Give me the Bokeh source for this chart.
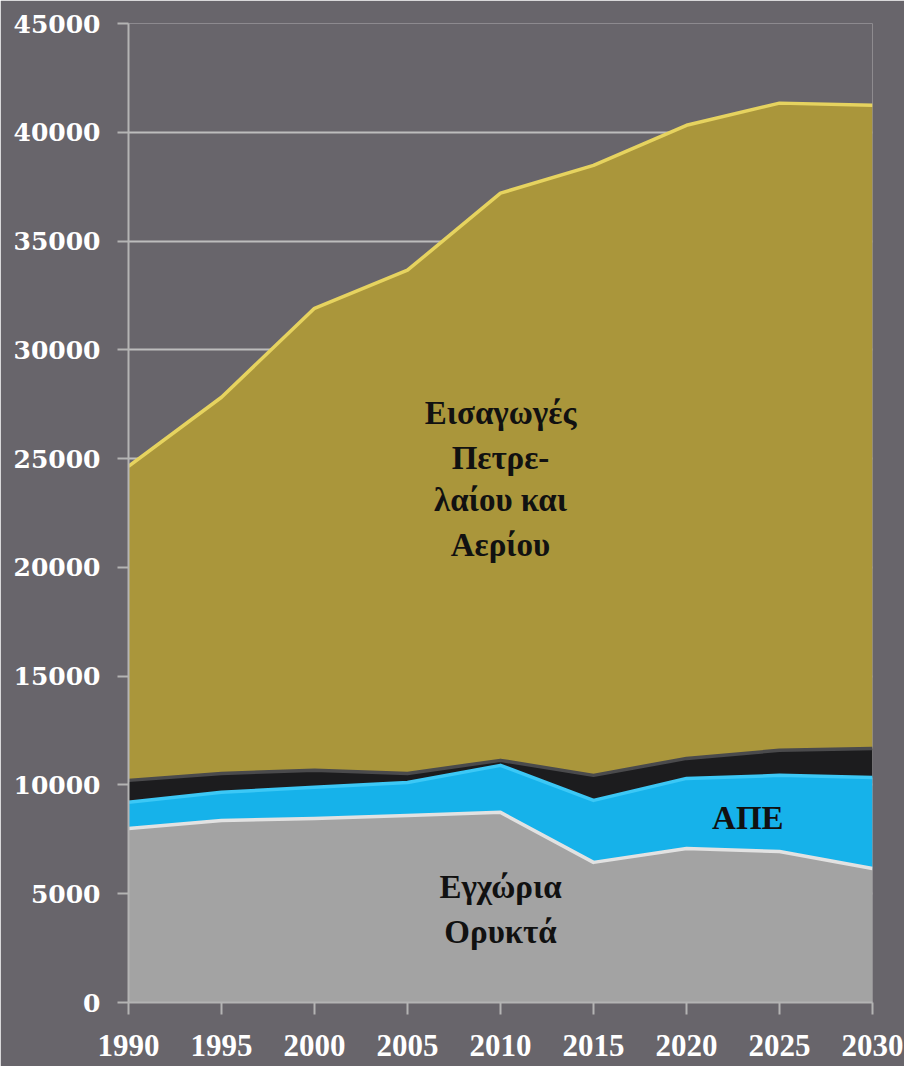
import numpy as np
from bokeh.plotting import figure
from bokeh.models import ColumnDataSource, FixedTicker
from bokeh.core.properties import value
from bokeh.embed import file_html
from bokeh.resources import INLINE

# ---- data ----
years = [1990, 1995, 2000, 2005, 2010, 2015, 2020, 2025, 2030]
domestic_fossil = [8000, 8370, 8460, 8600, 8740, 6440, 7080, 6940, 6160]      # Εγχώρια Ορυκτά
renewables = [1200, 1290, 1430, 1510, 2160, 2850, 3220, 3500, 4180]            # ΑΠΕ
other = [1010, 870, 780, 420, 230, 1150, 920, 1150, 1340]                      # (black band)
imports = [14440, 17290, 21240, 23130, 26070, 28040, 29100, 29750, 29560]      # Εισαγωγές Πετρελαίου και Αερίου

y_ticks = [0, 5000, 10000, 15000, 20000, 25000, 30000, 35000, 40000, 45000]
x_ticks = years

labels_text = ["Εισαγωγές", "Πετρε-", "λαίου και", "Αερίου", "ΑΠΕ", "Εγχώρια", "Ορυκτά"]
labels_x = [2010, 2010, 2010, 2010, 2023.3, 2010, 2010]
labels_y = [27080, 25010, 23080, 21010, 8500, 5290, 3220]

BG = "#68656b"
layers = ["domestic_fossil", "renewables", "other", "imports"]
fills = ["#a3a3a3", "#16b2ea", "#1c1c1e", "#aa963b"]
edges = ["#e2e2e2", "#3cc8f6", "#4a4a4c", "#e6d35f"]

src = ColumnDataSource(dict(years=years, domestic_fossil=domestic_fossil,
                            renewables=renewables, other=other, imports=imports))

p = figure(width=904, height=1066, output_backend="svg", toolbar_location=None,
           x_range=(1990, 2030), y_range=(0, 45000),
           min_border_left=128, min_border_right=32, min_border_top=23, min_border_bottom=64,
           background_fill_color=BG, border_fill_color=BG, outline_line_color=None)

p.varea_stack(stackers=layers, x="years", color=fills, source=src)

# lighter edge lines on top of each layer
cum = np.zeros(len(years))
for name, ec in zip(layers, edges):
    cum = cum + np.array(src.data[name], dtype=float)
    p.line(list(years), list(cum), line_color=ec, line_width=3.5, line_join="round")

# axes
for ax in (p.xaxis[0], p.yaxis[0]):
    ax.axis_line_color = "#b4b4b4"
    ax.axis_line_width = 2
    ax.major_tick_line_color = "#b4b4b4"
    ax.major_tick_line_width = 2
    ax.minor_tick_line_color = None
    ax.major_tick_in = 0
    ax.major_label_text_color = "white"
    ax.major_label_text_font_style = "bold"

p.yaxis.ticker = FixedTicker(ticks=y_ticks)
p.xaxis.ticker = FixedTicker(ticks=x_ticks)
p.yaxis.major_tick_out = 11
p.xaxis.major_tick_out = 12
p.yaxis.major_label_text_font = "DejaVu Serif"
p.yaxis.major_label_text_font_size = "25px"
p.yaxis.major_label_standoff = 17
p.xaxis.major_label_text_font = "Liberation Serif"
p.xaxis.major_label_text_font_size = "31px"
p.xaxis.major_label_standoff = 20

p.xgrid.grid_line_color = None
p.ygrid.grid_line_color = "#bdbdbd"
p.ygrid.grid_line_width = 2

p.text(x=labels_x, y=labels_y, text=labels_text,
       text_font=value("Liberation Serif"), text_font_style="bold",
       text_font_size="33px", text_color="#111111",
       text_align="center", text_baseline="middle")

open("out.html", "w").write(file_html(p, INLINE))
